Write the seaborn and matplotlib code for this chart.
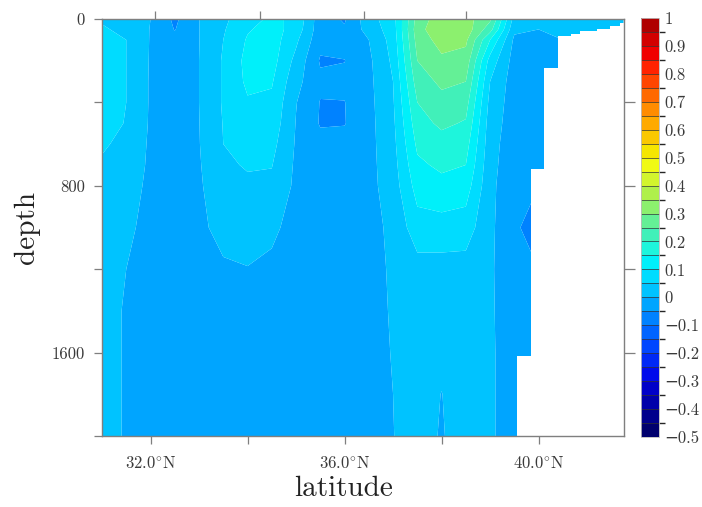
import numpy as np
import pandas as pd
import seaborn as sns
import matplotlib
matplotlib.use("Agg")
import matplotlib.pyplot as plt
from matplotlib.colors import ListedColormap, BoundaryNorm

# ---------------- data ----------------
depths = [0, 50, 100, 200, 300, 400, 500, 600, 700, 800, 1000, 1200, 1400, 1600, 1800, 2000]
lats = [31.0, 31.5, 32.0, 32.5, 33.0, 33.5, 34.0, 34.5, 35.0, 35.5, 36.0, 36.5,
        37.0, 37.5, 38.0, 38.5, 39.0, 39.5, 40.0, 40.5, 41.0, 41.5, 41.75]

v31_0 = [0.045, 0.055, 0.065, 0.07, 0.07, 0.07, 0.065, 0.055, 0.045, 0.035, 0.03, 0.025, 0.025, 0.025, 0.025, 0.025]
v31_5 = [0.035, 0.04, 0.05, 0.05, 0.05, 0.05, 0.048, 0.04, 0.035, 0.03, 0.013, 0.0, -0.006, -0.006, -0.006, -0.006]
v32_0 = [0.0, -0.002, -0.003, -0.004, -0.005, -0.005, -0.006, -0.008, -0.01, -0.015, -0.02, -0.025, -0.025, -0.025, -0.025, -0.025]
v32_5 = [-0.06, -0.052, -0.035, -0.03, -0.03, -0.03, -0.03, -0.03, -0.03, -0.03, -0.03, -0.03, -0.03, -0.03, -0.03, -0.03]
v33_0 = [-0.001, -0.001, -0.001, 0.0, 0.0, 0.0, -0.001, -0.002, -0.004, -0.006, -0.008, -0.02, -0.025, -0.025, -0.025, -0.025]
v33_5 = [0.04, 0.045, 0.05, 0.055, 0.055, 0.055, 0.052, 0.05, 0.04, 0.03, 0.012, -0.005, -0.02, -0.025, -0.025, -0.025]
v34_0 = [0.08, 0.095, 0.105, 0.115, 0.11, 0.095, 0.085, 0.075, 0.055, 0.04, 0.025, -0.002, -0.02, -0.025, -0.025, -0.025]
v34_5 = [0.11, 0.12, 0.125, 0.12, 0.105, 0.09, 0.08, 0.065, 0.052, 0.04, 0.01, -0.01, -0.02, -0.025, -0.025, -0.025]
v35_0 = [0.09, 0.08, 0.06, 0.035, 0.015, 0.002, -0.002, -0.005, -0.008, -0.01, -0.018, -0.025, -0.025, -0.025, -0.025, -0.025]
v35_5 = [-0.03, -0.03, -0.035, -0.055, -0.04, -0.052, -0.054, -0.035, -0.03, -0.03, -0.03, -0.03, -0.03, -0.03, -0.03, -0.03]
v36_0 = [-0.055, -0.045, -0.035, -0.051, -0.04, -0.051, -0.052, -0.035, -0.03, -0.03, -0.03, -0.03, -0.03, -0.03, -0.03, -0.03]
v36_5 = [0.03, 0.02, 0.0, -0.01, -0.012, -0.014, -0.015, -0.015, -0.015, -0.015, -0.015, -0.015, -0.015, -0.015, -0.015, -0.015]
v37_0 = [0.08, 0.075, 0.07, 0.06, 0.05, 0.045, 0.04, 0.035, 0.03, 0.025, 0.01, 0.006, 0.004, 0.002, 0.0, -0.001]
v37_5 = [0.27, 0.28, 0.27, 0.25, 0.225, 0.2, 0.18, 0.16, 0.14, 0.12, 0.08, 0.03, 0.028, 0.025, 0.022, 0.02]
v38_0 = [0.33, 0.34, 0.32, 0.29, 0.26, 0.235, 0.21, 0.18, 0.16, 0.135, 0.08, 0.03, 0.022, 0.012, -0.001, -0.004]
v38_5 = [0.32, 0.33, 0.31, 0.28, 0.25, 0.22, 0.195, 0.17, 0.15, 0.125, 0.075, 0.03, 0.028, 0.025, 0.025, 0.025]
v39_0 = [0.26, 0.22, 0.15, 0.08, 0.05, 0.035, 0.025, 0.02, 0.015, 0.012, 0.01, 0.007, 0.007, 0.007, 0.007, 0.007]
v39_5 = [0.03, 0.01, -0.01, -0.02, -0.025, -0.025, -0.025, -0.03, -0.03, -0.035, -0.04, -0.035, -0.03, -0.025, -0.025, -0.025]
v40_0 = [0.02, 0.0, -0.02, -0.025, -0.025, -0.03, -0.03, -0.03, -0.035, -0.05, -0.08, -0.05, -0.04, -0.03, -0.03, -0.03]
v40_5 = [0.035, 0.02, 0.0, -0.02, -0.025, -0.025, -0.025, -0.025, -0.025, -0.025, -0.025, -0.025, -0.025, -0.025, -0.025, -0.025]
v41_0 = [0.03, 0.02, 0.0, -0.02, -0.025, -0.025, -0.025, -0.025, -0.025, -0.025, -0.025, -0.025, -0.025, -0.025, -0.025, -0.025]
v41_5 = [0.03, 0.025, 0.01, -0.02, -0.025, -0.025, -0.025, -0.025, -0.025, -0.025, -0.025, -0.025, -0.025, -0.025, -0.025, -0.025]
v41_75 = [0.03, 0.025, 0.01, -0.02, -0.025, -0.025, -0.025, -0.025, -0.025, -0.025, -0.025, -0.025, -0.025, -0.025, -0.025, -0.025]

# sea-floor (land mask): from each latitude edge eastward, depth below which there is no water
bottom_lat = [39.56, 39.84, 40.11, 40.39, 40.66, 40.86, 41.21, 41.48, 41.68, 41.75]
bottom_depth = [1614, 719, 235, 81, 72, 57, 48, 34, 19, 19]

x_ticks = [32.0, 34.0, 36.0, 38.0, 40.0]
x_ticklabels = [r"32.0$^{\circ}$N", "", r"36.0$^{\circ}$N", "", r"40.0$^{\circ}$N"]
top_ticks = [32.1, 34.25, 36.4, 38.5]
y_ticks = [0, 400, 800, 1200, 1600, 2000]
y_ticklabels = ["0", "", "800", "", "1600", ""]
cbar_ticks = [-0.5, -0.4, -0.3, -0.2, -0.1, 0, 0.1, 0.2, 0.3, 0.4, 0.5, 0.6, 0.7, 0.8, 0.9, 1.0]
cbar_labels = ["\u22120.5", "\u22120.4", "\u22120.3", "\u22120.2", "\u22120.1", "0", "0.1", "0.2",
               "0.3", "0.4", "0.5", "0.6", "0.7", "0.8", "0.9", "1"]

# ---------------- styling ----------------
sns.set_theme(style="white")
plt.rcParams["font.family"] = ["cmr10", "DejaVu Serif"]
plt.rcParams["mathtext.fontset"] = "cm"
plt.rcParams["mathtext.rm"] = "cmr10"
plt.rcParams["axes.unicode_minus"] = True

band_colors = [
    (0, 0, 110), (0, 0, 140), (0, 0, 170), (0, 0, 200), (0, 10, 235), (0, 40, 245),
    (0, 70, 255), (0, 100, 255), (0, 130, 255), (0, 165, 255), (0, 195, 255), (0, 220, 255),
    (0, 240, 250), (30, 245, 220), (65, 240, 185), (100, 240, 150), (140, 240, 110),
    (175, 240, 75), (210, 245, 45), (240, 250, 20), (245, 230, 0), (250, 200, 0),
    (255, 170, 0), (255, 140, 0), (255, 105, 0), (255, 70, 0), (255, 35, 0),
    (240, 0, 0), (210, 0, 0), (175, 0, 0)]
cmap = ListedColormap([tuple(c / 255 for c in rgb) for rgb in band_colors])
levels = np.linspace(-0.5, 1.0, 31)
norm = BoundaryNorm(levels, cmap.N)

# build the field table
cols = [v31_0, v31_5, v32_0, v32_5, v33_0, v33_5, v34_0, v34_5, v35_0, v35_5, v36_0, v36_5,
        v37_0, v37_5, v38_0, v38_5, v39_0, v39_5, v40_0, v40_5, v41_0, v41_5, v41_75]
df = pd.DataFrame(np.array(cols).T, index=depths, columns=lats)

W, H = 702, 507
fig = plt.figure(figsize=(W / 100, H / 100), dpi=100)
ax = fig.add_axes([102 / W, (H - 436) / H, (623.5 - 102) / W, (436 - 19) / H])
cax = fig.add_axes([641 / W, (H - 437) / H, 18 / W, (437 - 18) / H])

ax.contourf(df.columns.values, df.index.values, df.values, levels=levels, cmap=cmap,
            norm=norm, antialiased=True)
ax.fill_between(bottom_lat, bottom_depth, 2000, step="post", color="white", lw=0, zorder=3)

ax.set_xlim(31.0, 41.75)
ax.set_ylim(2000, 0)

frame_c = "#7f7f7f"
for s in ax.spines.values():
    s.set_color(frame_c)
    s.set_linewidth(1.0)
    s.set_visible(True)
    s.set_zorder(5)

ax.set_xticks(x_ticks)
ax.set_xticklabels(x_ticklabels)
ax.set_yticks(y_ticks)
ax.set_yticklabels(y_ticklabels)
ax.tick_params(axis="both", which="both", direction="out", length=5.5, width=0.9,
               color=frame_c, labelsize=12, labelcolor="#3a3a3a",
               bottom=True, left=True, right=False, top=False)
ax.tick_params(axis="x", pad=8)
ax.tick_params(axis="y", pad=7)

# right ticks
axr = ax.secondary_yaxis("right")
axr.set_yticks([400, 800, 1200, 1600])
axr.set_yticklabels([])
axr.tick_params(direction="out", length=8, width=0.9, color=frame_c)
axr.spines["right"].set_visible(False)
# top ticks
axt = ax.secondary_xaxis("top")
axt.set_xticks(top_ticks)
axt.set_xticklabels([])
axt.tick_params(direction="out", length=6, width=0.9, color=frame_c)
axt.spines["top"].set_visible(False)

fig.text(344 / W, 1 - 489 / H, "latitude", ha="center", va="center", fontsize=21, color="#222222")
fig.text(27 / W, 1 - 227 / H, "depth", ha="center", va="center", rotation=90, fontsize=21,
         color="#222222")

# colorbar
cb = matplotlib.colorbar.ColorbarBase(cax, cmap=cmap, norm=norm, boundaries=levels,
                                      ticks=cbar_ticks, spacing="uniform", drawedges=True)
cb.dividers.set_color("#333333")
cb.dividers.set_linewidth(0.5)
cb.outline.set_edgecolor("#bbbbbb")
cb.outline.set_linewidth(0.6)
cb.set_ticklabels(cbar_labels)
cax.tick_params(length=0, labelsize=12, labelcolor="#3a3a3a", pad=4)

fig.savefig("out.png", dpi=100, facecolor="white")
